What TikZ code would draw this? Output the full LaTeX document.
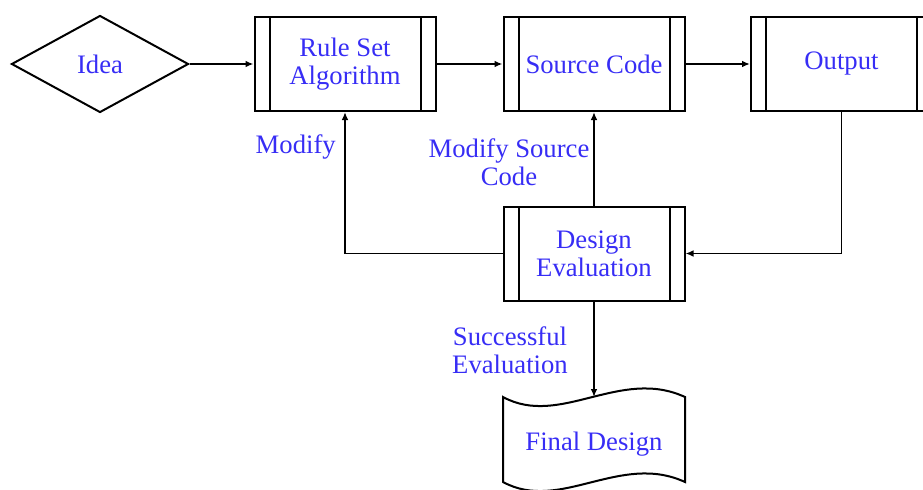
\documentclass[tikz,border=0pt]{standalone}
\usepackage{fontspec}
\setmainfont{Liberation Serif}
\usetikzlibrary{shapes.geometric,arrows.meta}
\definecolor{labelblue}{RGB}{55,45,245}
\begin{document}
\begin{tikzpicture}[x=0.75pt,y=-0.75pt,
  every node/.style={font=\fontsize{20}{21}\selectfont, text=labelblue},
  procbox/.style={draw, line width=1.5pt, minimum width=135.75pt, minimum height=70.5pt,
    inner sep=0pt, align=center,
    path picture={
      \draw[line width=1.5pt]
        ([xshift=11.25pt]path picture bounding box.north west) --
        ([xshift=11.25pt]path picture bounding box.south west)
        ([xshift=-11.25pt]path picture bounding box.north east) --
        ([xshift=-11.25pt]path picture bounding box.south east);
    }},
  decision/.style={draw, diamond, line width=1.5pt, inner sep=0pt, aspect=1.82,
    minimum width=132.75pt, minimum height=72.75pt},
  flow/.style={draw, line width=1.4pt, -{Latex[length=6pt,width=5pt]}},
  edgelabel/.style={align=center, inner sep=0pt}
]
\useasboundingbox (0,0) rectangle (923,489);

% main row
\node[decision] (idea) at (100,64) {Idea};
\node[procbox] (rule) at (345,64) {Rule Set\\Algorithm};
\node[procbox] (src) at (594,64) {Source Code};
\node[procbox] (out) at (841.5,64) {Output};

% evaluation
\node[procbox] (deval) at (594,253.5) {Design\\Evaluation};

% document shape for the final design
\draw[line width=1.5pt]
  (503,397) .. controls (560,428) and (620,367) .. (685,397)
  -- (685,482) .. controls (620,452) and (560,513) .. (503,482) -- cycle;
\node (fd) at (594,444) {Final Design};
\coordinate (fdtop) at (594,397);

% connectors
\draw[flow] (idea.east) -- (rule.west);
\draw[flow] (rule.east) -- (src.west);
\draw[flow] (src.east) -- (out.west);
\draw[flow] (deval.west) -| (rule.south);
\draw[flow] (deval.north) -- (src.south);
\draw[flow] (out.south) |- (deval.east);
\draw[flow] (deval.south) -- (fdtop);

% connector labels
\node[edgelabel, anchor=east] (lmod) at (336,147) {Modify};
\node[edgelabel] (lmodsrc) at (509,162) {Modify Source\\Code};
\node[edgelabel] (lsucc) at (510,350) {Successful\\Evaluation};
\end{tikzpicture}
\end{document}
